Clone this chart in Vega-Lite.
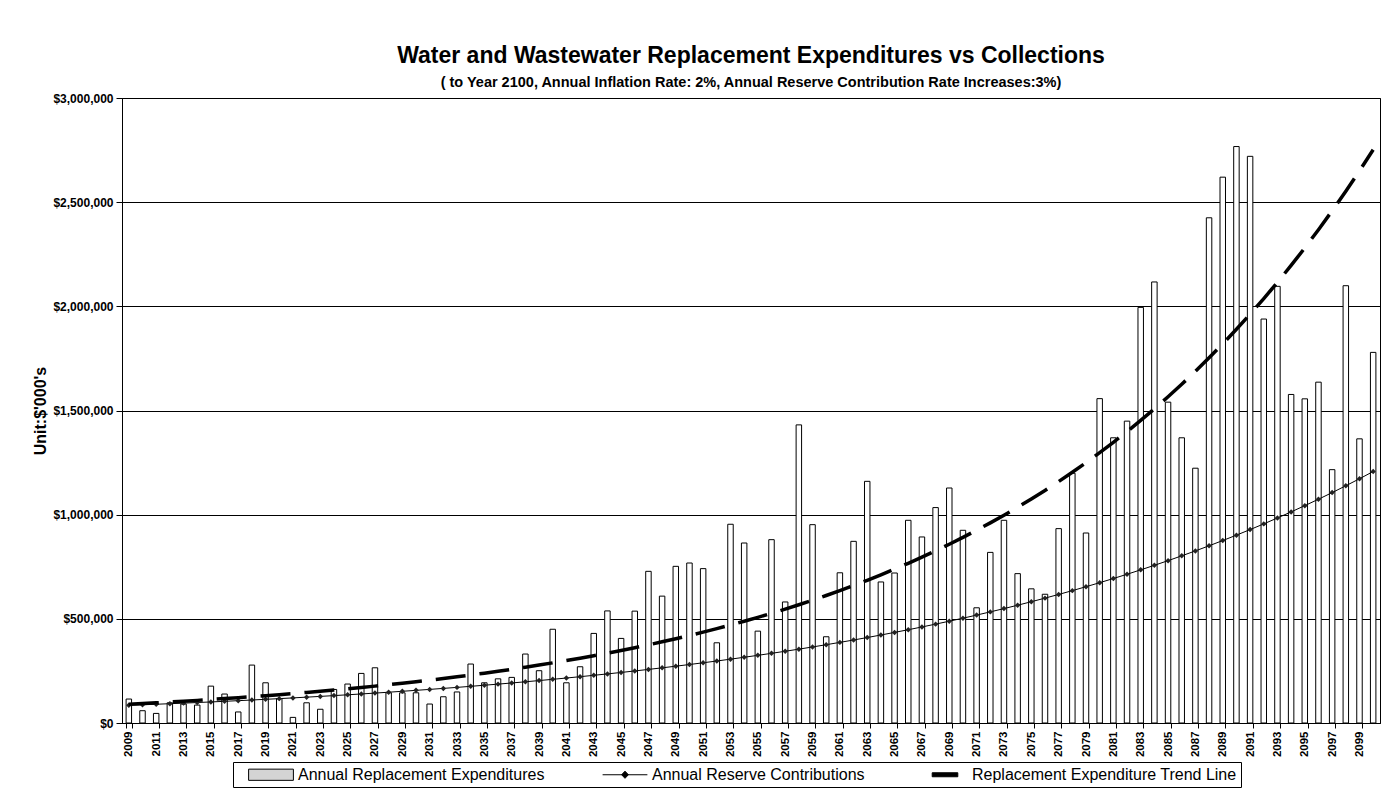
{
  "$schema": "https://vega.github.io/schema/vega-lite/v6.json",
  "autosize": {"type": "none"},
  "width": 1258,
  "height": 625,
  "padding": {"left": 122, "top": 98, "right": 14, "bottom": 75},
  "background": "white",
  "config": {
    "font": "Liberation Sans",
    "view": {"stroke": "black", "strokeWidth": 1}
  },
  "title": {
    "text": "Water and Wastewater Replacement Expenditures vs Collections",
    "subtitle": "( to Year 2100, Annual Inflation Rate: 2%, Annual Reserve Contribution Rate Increases:3%)",
    "fontSize": 23,
    "fontWeight": "bold",
    "subtitleFontSize": 14.5,
    "subtitleFontWeight": "bold",
    "color": "black",
    "subtitleColor": "black",
    "anchor": "middle",
    "frame": "group",
    "offset": 3,
    "subtitlePadding": 8
  },
  "datasets": {
    "main": [
      {"year": 2009, "expenditure": 115000, "contribution": 84900, "trend": 90000},
      {"year": 2010, "expenditure": 59000, "contribution": 87400, "trend": 93400},
      {"year": 2011, "expenditure": 46000, "contribution": 90000, "trend": 97000},
      {"year": 2012, "expenditure": 97000, "contribution": 92700, "trend": 100700},
      {"year": 2013, "expenditure": 91000, "contribution": 95400, "trend": 104600},
      {"year": 2014, "expenditure": 86000, "contribution": 98200, "trend": 108600},
      {"year": 2015, "expenditure": 177000, "contribution": 101100, "trend": 112800},
      {"year": 2016, "expenditure": 139000, "contribution": 104100, "trend": 117100},
      {"year": 2017, "expenditure": 53000, "contribution": 107200, "trend": 121600},
      {"year": 2018, "expenditure": 278000, "contribution": 110400, "trend": 126200},
      {"year": 2019, "expenditure": 193000, "contribution": 113700, "trend": 131100},
      {"year": 2020, "expenditure": 117000, "contribution": 117000, "trend": 136100},
      {"year": 2021, "expenditure": 27000, "contribution": 120500, "trend": 141300},
      {"year": 2022, "expenditure": 97000, "contribution": 124100, "trend": 146700},
      {"year": 2023, "expenditure": 66000, "contribution": 127700, "trend": 152300},
      {"year": 2024, "expenditure": 161000, "contribution": 131500, "trend": 158200},
      {"year": 2025, "expenditure": 187000, "contribution": 135400, "trend": 164200},
      {"year": 2026, "expenditure": 238000, "contribution": 139400, "trend": 170500},
      {"year": 2027, "expenditure": 265000, "contribution": 143500, "trend": 177000},
      {"year": 2028, "expenditure": 145000, "contribution": 147800, "trend": 183800},
      {"year": 2029, "expenditure": 145000, "contribution": 152200, "trend": 190900},
      {"year": 2030, "expenditure": 145000, "contribution": 156700, "trend": 198200},
      {"year": 2031, "expenditure": 91000, "contribution": 161300, "trend": 205800},
      {"year": 2032, "expenditure": 126000, "contribution": 166100, "trend": 213600},
      {"year": 2033, "expenditure": 149000, "contribution": 171000, "trend": 221800},
      {"year": 2034, "expenditure": 283000, "contribution": 176000, "trend": 230300},
      {"year": 2035, "expenditure": 193000, "contribution": 181300, "trend": 239100},
      {"year": 2036, "expenditure": 212000, "contribution": 186600, "trend": 248300},
      {"year": 2037, "expenditure": 219000, "contribution": 192100, "trend": 257800},
      {"year": 2038, "expenditure": 331000, "contribution": 197800, "trend": 267700},
      {"year": 2039, "expenditure": 251000, "contribution": 203700, "trend": 277900},
      {"year": 2040, "expenditure": 450000, "contribution": 209700, "trend": 288600},
      {"year": 2041, "expenditure": 193000, "contribution": 215900, "trend": 299600},
      {"year": 2042, "expenditure": 270000, "contribution": 222300, "trend": 311100},
      {"year": 2043, "expenditure": 430000, "contribution": 228900, "trend": 323000},
      {"year": 2044, "expenditure": 538000, "contribution": 235700, "trend": 335400},
      {"year": 2045, "expenditure": 406000, "contribution": 242600, "trend": 348200},
      {"year": 2046, "expenditure": 537000, "contribution": 249800, "trend": 361600},
      {"year": 2047, "expenditure": 728000, "contribution": 257200, "trend": 375400},
      {"year": 2048, "expenditure": 609000, "contribution": 264800, "trend": 389800},
      {"year": 2049, "expenditure": 752000, "contribution": 272700, "trend": 404700},
      {"year": 2050, "expenditure": 768000, "contribution": 280700, "trend": 420200},
      {"year": 2051, "expenditure": 741000, "contribution": 289100, "trend": 436300},
      {"year": 2052, "expenditure": 385000, "contribution": 297600, "trend": 453000},
      {"year": 2053, "expenditure": 954000, "contribution": 306400, "trend": 470400},
      {"year": 2054, "expenditure": 864000, "contribution": 315500, "trend": 488400},
      {"year": 2055, "expenditure": 441000, "contribution": 324800, "trend": 507100},
      {"year": 2056, "expenditure": 880000, "contribution": 334400, "trend": 526500},
      {"year": 2057, "expenditure": 581000, "contribution": 344300, "trend": 546700},
      {"year": 2058, "expenditure": 1431000, "contribution": 354500, "trend": 567600},
      {"year": 2059, "expenditure": 952000, "contribution": 365000, "trend": 589400},
      {"year": 2060, "expenditure": 414000, "contribution": 375800, "trend": 611900},
      {"year": 2061, "expenditure": 721000, "contribution": 387000, "trend": 635400},
      {"year": 2062, "expenditure": 872000, "contribution": 398400, "trend": 659700},
      {"year": 2063, "expenditure": 1160000, "contribution": 410200, "trend": 685000},
      {"year": 2064, "expenditure": 677000, "contribution": 422400, "trend": 711200},
      {"year": 2065, "expenditure": 720000, "contribution": 434900, "trend": 738400},
      {"year": 2066, "expenditure": 973000, "contribution": 447700, "trend": 766700},
      {"year": 2067, "expenditure": 893000, "contribution": 461000, "trend": 796100},
      {"year": 2068, "expenditure": 1034000, "contribution": 474600, "trend": 826600},
      {"year": 2069, "expenditure": 1128000, "contribution": 488700, "trend": 858200},
      {"year": 2070, "expenditure": 925000, "contribution": 503100, "trend": 891100},
      {"year": 2071, "expenditure": 553000, "contribution": 518000, "trend": 925200},
      {"year": 2072, "expenditure": 819000, "contribution": 533400, "trend": 960700},
      {"year": 2073, "expenditure": 973000, "contribution": 549100, "trend": 997500},
      {"year": 2074, "expenditure": 717000, "contribution": 565400, "trend": 1035700},
      {"year": 2075, "expenditure": 644000, "contribution": 582100, "trend": 1075300},
      {"year": 2076, "expenditure": 618000, "contribution": 599400, "trend": 1116500},
      {"year": 2077, "expenditure": 933000, "contribution": 617100, "trend": 1159300},
      {"year": 2078, "expenditure": 1199000, "contribution": 635400, "trend": 1203700},
      {"year": 2079, "expenditure": 912000, "contribution": 654200, "trend": 1249800},
      {"year": 2080, "expenditure": 1557000, "contribution": 673500, "trend": 1297700},
      {"year": 2081, "expenditure": 1369000, "contribution": 693500, "trend": 1347400},
      {"year": 2082, "expenditure": 1449000, "contribution": 714000, "trend": 1399000},
      {"year": 2083, "expenditure": 1995000, "contribution": 735100, "trend": 1452600},
      {"year": 2084, "expenditure": 2117000, "contribution": 756900, "trend": 1508200},
      {"year": 2085, "expenditure": 1540000, "contribution": 779300, "trend": 1565900},
      {"year": 2086, "expenditure": 1369000, "contribution": 802400, "trend": 1625900},
      {"year": 2087, "expenditure": 1223000, "contribution": 826100, "trend": 1688200},
      {"year": 2088, "expenditure": 2425000, "contribution": 850600, "trend": 1752900},
      {"year": 2089, "expenditure": 2620000, "contribution": 875800, "trend": 1820000},
      {"year": 2090, "expenditure": 2767000, "contribution": 901700, "trend": 1889700},
      {"year": 2091, "expenditure": 2720000, "contribution": 928400, "trend": 1962100},
      {"year": 2092, "expenditure": 1939000, "contribution": 955800, "trend": 2037200},
      {"year": 2093, "expenditure": 2096000, "contribution": 984100, "trend": 2115200},
      {"year": 2094, "expenditure": 1577000, "contribution": 1013300, "trend": 2196300},
      {"year": 2095, "expenditure": 1556000, "contribution": 1043300, "trend": 2280400},
      {"year": 2096, "expenditure": 1636000, "contribution": 1074100, "trend": 2367700},
      {"year": 2097, "expenditure": 1216000, "contribution": 1105900, "trend": 2458400},
      {"year": 2098, "expenditure": 2099000, "contribution": 1138700, "trend": 2552500},
      {"year": 2099, "expenditure": 1364000, "contribution": 1172400, "trend": 2650300},
      {"year": 2100, "expenditure": 1779000, "contribution": 1207100, "trend": 2751800}
    ],
    "legendrows": [
      {"series": "Annual Replacement Expenditures"},
      {"series": "Annual Reserve Contributions"},
      {"series": "Replacement Expenditure Trend Line"}
    ]
  },
  "data": {"name": "main"},
  "layer": [
    {
      "mark": {"type": "bar", "fill": "white", "stroke": "black", "strokeWidth": 1},
      "encoding": {
        "x": {
          "field": "year", "type": "ordinal",
          "scale": {"paddingInner": 0.6, "paddingOuter": 0.3},
          "axis": {
            "title": null,
            "values": [2009,2011,2013,2015,2017,2019,2021,2023,2025,2027,2029,2031,2033,2035,2037,2039,2041,2043,2045,2047,2049,2051,2053,2055,2057,2059,2061,2063,2065,2067,2069,2071,2073,2075,2077,2079,2081,2083,2085,2087,2089,2091,2093,2095,2097,2099],
            "labelAngle": -90,
            "labelFontSize": 11.5,
            "labelFontWeight": "bold",
            "labelColor": "black",
            "tickBand": "extent",
            "tickSize": 5,
            "labelPadding": 3,
            "domainColor": "black",
            "tickColor": "black",
            "grid": false
          }
        },
        "y": {
          "field": "expenditure", "type": "quantitative",
          "title": "Unit:$'000's",
          "scale": {"domain": [0, 3000000], "nice": false},
          "axis": {
            "title": "Unit:$'000's",
            "titleFontSize": 16,
            "titleFontWeight": "bold",
            "titleColor": "black",
            "titlePadding": 4,
            "format": "$,.0f",
            "values": [0, 500000, 1000000, 1500000, 2000000, 2500000, 3000000],
            "labelFontSize": 12,
            "labelFontWeight": "bold",
            "labelColor": "black",
            "labelPadding": 3,
            "tickSize": 6,
            "tickColor": "black",
            "domainColor": "black",
            "grid": true,
            "gridColor": "black",
            "gridOpacity": 1,
            "gridWidth": 1
          }
        }
      }
    },
    {
      "mark": {"type": "line", "color": "black", "strokeWidth": 1},
      "encoding": {
        "x": {"field": "year", "type": "ordinal"},
        "y": {"field": "contribution", "type": "quantitative", "title": "Unit:$'000's"}
      }
    },
    {
      "mark": {"type": "point", "shape": "diamond", "filled": true, "color": "#222222", "size": 30, "opacity": 1},
      "encoding": {
        "x": {"field": "year", "type": "ordinal"},
        "y": {"field": "contribution", "type": "quantitative", "title": "Unit:$'000's"}
      }
    },
    {
      "mark": {"type": "line", "color": "black", "strokeWidth": 3.5, "strokeDash": [30, 14]},
      "encoding": {
        "x": {"field": "year", "type": "ordinal"},
        "y": {"field": "trend", "type": "quantitative", "title": "Unit:$'000's"}
      }
    },
    {
      "data": {"name": "legendrows"},
      "transform": [{"filter": "datum.series == 'none'"}],
      "mark": {"type": "point", "filled": true, "opacity": 1},
      "encoding": {
        "shape": {
          "field": "series", "type": "nominal",
          "scale": {
            "domain": ["Annual Replacement Expenditures", "Annual Reserve Contributions", "Replacement Expenditure Trend Line"],
            "range": ["M-2.8,-0.7H2.8V0.7H-2.8Z", "M-2.8,0H2.8M0,-0.45L0.42,0L0,0.45L-0.42,0Z", "M-1.6,-0.25H1.6V0.25H-1.6Z"]
          },
          "legend": {"title": null, "orient": "none", "legendX": 111, "legendY": 664, "direction": "horizontal", "columns": 3, "symbolSize": 256, "symbolOffset": 25.5, "symbolStrokeWidth": 1, "symbolOpacity": 1, "labelFontSize": 16, "labelColor": "black", "labelOffset": 18.5, "columnPadding": 46, "padding": 4, "strokeColor": "black", "fillColor": "white", "labelLimit": 400}
        },
        "fill": {
          "field": "series", "type": "nominal",
          "scale": {
            "domain": ["Annual Replacement Expenditures", "Annual Reserve Contributions", "Replacement Expenditure Trend Line"],
            "range": ["#d4d4d4", "black", "black"]
          },
          "legend": {"title": null, "orient": "none", "legendX": 111, "legendY": 664, "direction": "horizontal", "columns": 3, "symbolSize": 256, "symbolOffset": 25.5, "symbolStrokeWidth": 1, "symbolOpacity": 1, "labelFontSize": 16, "labelColor": "black", "labelOffset": 18.5, "columnPadding": 46, "padding": 4, "strokeColor": "black", "fillColor": "white", "labelLimit": 400}
        },
        "stroke": {
          "field": "series", "type": "nominal",
          "scale": {
            "domain": ["Annual Replacement Expenditures", "Annual Reserve Contributions", "Replacement Expenditure Trend Line"],
            "range": ["black", "black", "black"]
          },
          "legend": {"title": null, "orient": "none", "legendX": 111, "legendY": 664, "direction": "horizontal", "columns": 3, "symbolSize": 256, "symbolOffset": 25.5, "symbolStrokeWidth": 1, "symbolOpacity": 1, "labelFontSize": 16, "labelColor": "black", "labelOffset": 18.5, "columnPadding": 46, "padding": 4, "strokeColor": "black", "fillColor": "white", "labelLimit": 400}
        }
      }
    }
  ]
}
